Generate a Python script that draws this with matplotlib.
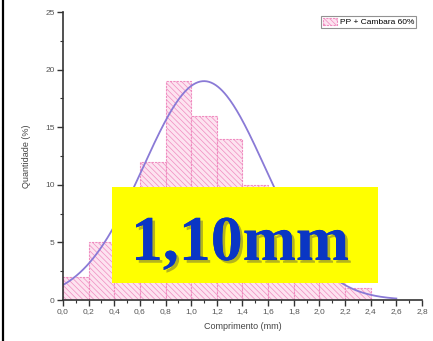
#!/usr/bin/env python3
# Fiber length histogram (PP + Cambara 60%) with normal fit and highlighted mean.

import numpy as np
import matplotlib
matplotlib.use("Agg")
import matplotlib.pyplot as plt
import matplotlib.patheffects as pe
from matplotlib.lines import Line2D
from matplotlib.patches import Rectangle

# bin left edges (mm) and percentages
bin_edges = [0.0, 0.2, 0.4, 0.6, 0.8, 1.0, 1.2, 1.4, 1.6, 1.8, 2.0, 2.2, 2.4]
quantidade = [2, 5, 7, 12, 19, 16, 14, 10, 7, 4, 3, 1, 0]
bin_width = 0.2

# normal fit parameters
fit_mean = 1.10
fit_sigma = 0.475
fit_peak = 19.0
fit_range = (0.0, 2.6)

x_ticks = [0.0, 0.2, 0.4, 0.6, 0.8, 1.0, 1.2, 1.4, 1.6, 1.8, 2.0, 2.2, 2.4, 2.6, 2.8]
x_tick_labels = ["0,0", "0,2", "0,4", "0,6", "0,8", "1,0", "1,2", "1,4",
                 "1,6", "1,8", "2,0", "2,2", "2,4", "2,6", "2,8"]
y_ticks = [0, 5, 10, 15, 20, 25]

series_label = "PP + Cambara 60%"
mean_label = "1,10mm"

plt.rcParams["font.family"] = ["Liberation Sans", "DejaVu Sans"]
plt.rcParams["hatch.linewidth"] = 0.5

fig = plt.figure(figsize=(4.33, 3.41), dpi=100)
ax = fig.add_axes([0.1455, 0.1202, 0.829, 0.8446])

ax.bar(bin_edges, quantidade, width=bin_width, align="edge",
       facecolor="#fde3f0", edgecolor="#f08cc0", hatch="\\\\\\\\\\\\",
       linewidth=0.8, linestyle=(0, (2, 1)), label=series_label)

xs = np.linspace(fit_range[0], fit_range[1], 300)
ys = fit_peak * np.exp(-((xs - fit_mean) ** 2) / (2 * fit_sigma ** 2))
ax.plot(xs, ys, color="#8a7ad6", linewidth=1.3)

ax.set_xlim(0.0, 2.8)
ax.set_ylim(0, 25)
ax.set_xticks(x_ticks)
ax.set_xticklabels(x_tick_labels)
ax.set_yticks(y_ticks)
ax.set_xticks(np.arange(0.1, 2.8, 0.2), minor=True)
ax.set_yticks([2.5, 7.5, 12.5, 17.5, 22.5], minor=True)

for side in ("top", "right"):
    ax.spines[side].set_visible(False)
for side in ("left", "bottom"):
    ax.spines[side].set_linewidth(1.2)
    ax.spines[side].set_color("#333333")

ax.tick_params(which="major", length=4, width=1.0, labelsize=6,
               colors="#333333", labelcolor="#555555", pad=2)
ax.tick_params(which="minor", length=2.5, width=0.8, colors="#333333")

ax.set_xlabel("Comprimento (mm)", fontsize=6.5, color="#444444", labelpad=5)
ax.set_ylabel("Quantidade (%)", fontsize=6.5, color="#444444", labelpad=10)

leg = ax.legend(loc="upper right", fontsize=6, frameon=True, fancybox=False,
                handlelength=1.7, handleheight=0.8, handletextpad=0.3,
                borderpad=0.25, bbox_to_anchor=(0.995, 1.0))
leg.get_frame().set_edgecolor("#777777")
leg.get_frame().set_linewidth(0.8)

# yellow highlight box with the mean length
fig.patches.append(Rectangle((0.2587, 0.170), 0.6143, 0.2815,
                             transform=fig.transFigure, facecolor="#ffff00",
                             edgecolor="none", zorder=5))
fig.text(0.554, 0.2375, mean_label, ha="center", va="baseline",
         fontsize=46, fontweight="bold", family=["Liberation Serif"],
         color="#0a36c4", zorder=6,
         path_effects=[pe.withSimplePatchShadow(offset=(2, -2),
                                                shadow_rgbFace="#6b6b3a",
                                                alpha=0.5),
                       pe.Normal()])

# dark frame line on the left edge
fig.lines.append(Line2D([0.008, 0.008], [0, 1], transform=fig.transFigure,
                        color="black", linewidth=1.6))

fig.savefig("out.png", dpi=100)
